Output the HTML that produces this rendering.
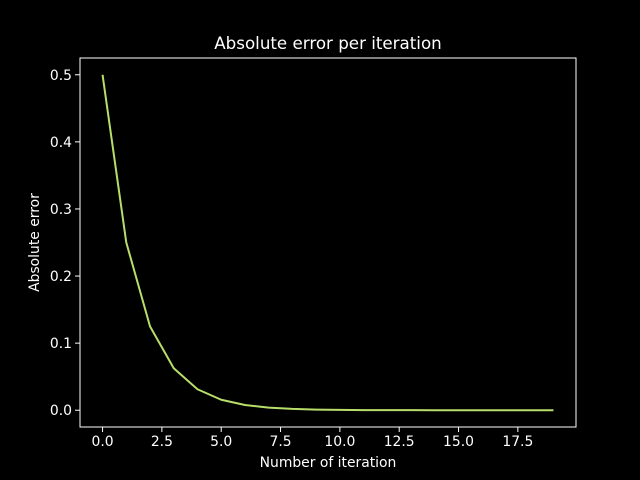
<!DOCTYPE html>
<html><head><meta charset="utf-8"><style>
html,body{margin:0;padding:0;background:#000;overflow:hidden;width:640px;height:480px;}
svg{display:block;}
svg text{font-family:"DejaVu Sans","Liberation Sans",sans-serif;fill:#fff;}
</style></head><body>
<svg id="chart" width="640" height="480" xmlns="http://www.w3.org/2000/svg">
<rect width="640" height="480" fill="#000"/>
<text x="328" y="49" font-size="16.7" text-anchor="middle">Absolute error per iteration</text>
<text x="328" y="467" font-size="13.9" text-anchor="middle">Number of iteration</text>
<text transform="translate(39,242.5) rotate(-90)" font-size="13.9" text-anchor="middle">Absolute error</text>
<g id="ticks"></g>
<g id="series"></g>
<rect x="80" y="58" width="496" height="369" fill="none" stroke="#fff" stroke-width="1"/>
</svg>
<script>
const iterations=[0,1,2,3,4,5,6,7,8,9,10,11,12,13,14,15,16,17,18,19];
const errors=[0.5,0.25,0.125,0.0625,0.03125,0.015625,0.0078125,0.00390625,0.001953125,0.0009765625,0.00048828125,0.000244140625,0.0001220703125,0.00006103515625,0.000030517578125,0.0000152587890625,0.00000762939453125,0.000003814697265625,0.0000019073486328125,0.00000095367431640625];
const xTicks=[0,2.5,5,7.5,10,12.5,15,17.5];
const xTickLabels=["0.0","2.5","5.0","7.5","10.0","12.5","15.0","17.5"];
const yTicks=[0,0.1,0.2,0.3,0.4,0.5];
const yTickLabels=["0.0","0.1","0.2","0.3","0.4","0.5"];
const L=80,R=576,T=58,B=427;
const xMin=-0.95,xMax=19.95,yMin=-0.025,yMax=0.525;
function sx(v){return L+(v-xMin)/(xMax-xMin)*(R-L);}
function sy(v){return B-(v-yMin)/(yMax-yMin)*(B-T);}
const NS="http://www.w3.org/2000/svg";
const tg=document.getElementById('ticks');
xTicks.forEach((t,i)=>{
 const l=document.createElementNS(NS,'line');
 l.setAttribute('x1',sx(t));l.setAttribute('x2',sx(t));l.setAttribute('y1',B);l.setAttribute('y2',B+5);l.setAttribute('stroke','#fff');
 
 
 tg.appendChild(l);
 const tx=document.createElementNS(NS,'text');
 tx.setAttribute('x',sx(t));tx.setAttribute('y',B+19);tx.setAttribute('font-size','13.9');tx.setAttribute('text-anchor','middle');
 tx.textContent=xTickLabels[i];
 
 
 tg.appendChild(tx);
});
yTicks.forEach((t,i)=>{
 const l=document.createElementNS(NS,'line');
 l.setAttribute('x1',L-5);l.setAttribute('x2',L);l.setAttribute('y1',sy(t));l.setAttribute('y2',sy(t));l.setAttribute('stroke','#fff');
 
 
 tg.appendChild(l);
 const tx=document.createElementNS(NS,'text');
 tx.setAttribute('x',L-8);tx.setAttribute('y',sy(t)+5);tx.setAttribute('font-size','13.9');tx.setAttribute('text-anchor','end');
 tx.textContent=yTickLabels[i];
 
 
 tg.appendChild(tx);
});
const p=document.createElementNS(NS,'polyline');
p.setAttribute('points',iterations.map((x,i)=>sx(x)+','+sy(errors[i])).join(' '));
p.setAttribute('fill','none');p.setAttribute('stroke','#b8de6a');p.setAttribute('stroke-width','2');p.setAttribute('stroke-linejoin','round');


document.getElementById('series').appendChild(p);
</script>
</body></html>
